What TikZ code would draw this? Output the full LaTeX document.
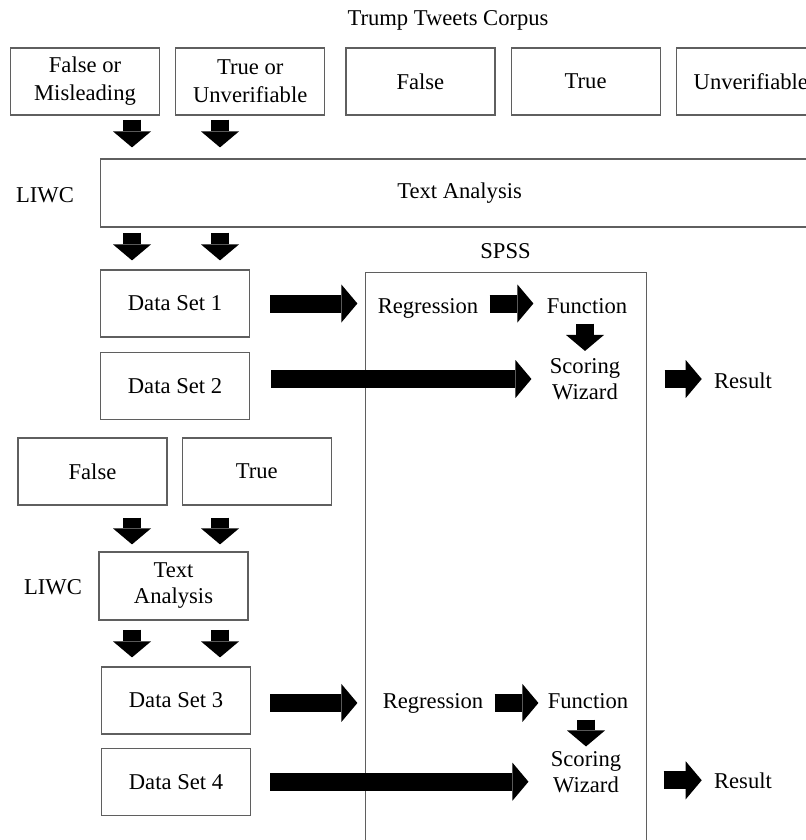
\documentclass[tikz,border=0pt]{standalone}
\usepackage{fontspec}
\setmainfont{Liberation Serif}
\usepackage{tikz}
\usetikzlibrary{%
	calc,%
	arrows.meta,%
	positioning,%
}
\definecolor{cborder}{RGB}{95, 95, 95}
\tikzset{
	nodes={align=center, font={\fontsize{11.3pt}{13pt}\selectfont}},%
	catbox/.style={%
			draw=cborder,%
			line width=0.6pt,%
			rectangle,%
			minimum width=74.5pt,%
			minimum height=33.5pt,%
			inner sep=0pt},%
	toolbox/.style={%
			draw=cborder,%
			line width=0.6pt,%
			rectangle,%
			inner sep=0pt},%
	plain/.style={%
			inner sep=0pt,%
			anchor=base},%
	blk/.style={%
			line width=9pt,%
			-{Triangle[length=8pt, width=19pt, line width=0pt]}},%
}

\begin{document}
\begin{tikzpicture}[x=0.5pt, y=-0.5pt]
	\useasboundingbox (0,0) rectangle (806,840);
	\clip (0,0) rectangle (806,840);

	\node[plain] (corpus) at (448,26) {Trump Tweets Corpus};

	\node[catbox, font={\fontsize{11.3pt}{14pt}\selectfont}] (fom) at (85,81.5) {False or\\Misleading};
	\node[catbox, font={\fontsize{11.3pt}{14pt}\selectfont}, right=7.5pt of fom] (tou) {True or\\Unverifiable};
	\node[catbox, right=10pt of tou] (fls) {False};
	\node[catbox, right=7.5pt of fls] (tru) {True};
	\node[catbox, right=7.5pt of tru] (unv) {Unverifiable};

	\node[catbox, minimum width=359pt, minimum height=34pt, anchor=west] (ta1) at (100,193) {Text Analysis};
	\node[plain] (liwc1) at (45,202) {LIWC};

	\node[catbox] (ds1) at (175,303.5) {Data Set 1};
	\node[catbox, below=7pt of ds1] (ds2) {Data Set 2};

	\node[toolbox, minimum width=140.5pt, minimum height=300pt, anchor=north west] (spss) at (365,272) {};
	\node[plain] (spsslbl) at (505.5,258) {SPSS};

	\node[plain] (reg1) at (428,313) {Regression};
	\node[plain] (fun1) at (587,313) {Function};
	\node (sw1) [inner sep=0pt] at (585,379) {Scoring\\Wizard};
	\node[plain] (res1) at (743,388) {Result};

	\node[catbox] (fls2) at (92.5,471.5) {False};
	\node[catbox, right=7pt of fls2] (tru2) {True};
	\node[catbox, minimum height=34pt] (ta2) at (173.5,586) {Text\\Analysis};
	\node[plain] (liwc2) at (53,594) {LIWC};

	\node[catbox] (ds3) at (176,700.5) {Data Set 3};
	\node[catbox, below=6.5pt of ds3] (ds4) {Data Set 4};

	\node[plain] (reg2) at (433,708) {Regression};
	\node[plain] (fun2) at (588,708) {Function};
	\node (sw2) [inner sep=0pt] at (586,772) {Scoring\\Wizard};
	\node[plain] (res2) at (743,788) {Result};

	\coordinate (colL) at (132,0);
	\coordinate (colR) at (220,0);

	\draw[blk, shorten <=2pt, shorten >=5.5pt] (colL |- fom.south) to (colL |- ta1.north);
	\draw[blk, shorten <=2pt, shorten >=5.5pt] (colR |- tou.south) to (colR |- ta1.north);
	\draw[blk, shorten <=2.5pt, shorten >=4.5pt] (colL |- ta1.south) to (colL |- ds1.north);
	\draw[blk, shorten <=2.5pt, shorten >=4.5pt] (colR |- ta1.south) to (colR |- ds1.north);

	\draw[blk, shorten <=10pt, shorten >=10pt] (ds1.east) to (ds1.east -| reg1.west);
	\draw[blk, shorten <=5.5pt, shorten >=6.5pt] (ds1.east -| reg1.east) to (ds1.east -| fun1.west);
	\draw[blk, shorten <=5pt, shorten >=3.5pt] (sw1.north |- fun1.south) to (sw1.north);
	\draw[blk, shorten <=10.5pt, shorten >=9pt] (ds2.east |- sw1.west) to (sw1.west);
	\draw[blk, shorten <=22pt, shorten >=6pt] (sw1.east) to (sw1.east -| res1.west);

	\draw[blk, shorten <=6pt, shorten >=3.5pt] (colL |- fls2.south) to (colL |- ta2.north);
	\draw[blk, shorten <=6pt, shorten >=3.5pt] (colR |- tru2.south) to (colR |- ta2.north);
	\draw[blk, shorten <=4.5pt, shorten >=4.5pt] (colL |- ta2.south) to (colL |- ds3.north);
	\draw[blk, shorten <=4.5pt, shorten >=4.5pt] (colR |- ta2.south) to (colR |- ds3.north);

	\draw[blk, shorten <=9.5pt, shorten >=12.5pt] (ds3.east |- reg2.west) to (reg2.west);
	\draw[blk, shorten <=5.5pt, shorten >=4.5pt] (reg2.east) to (reg2.east -| fun2.west);
	\draw[blk, shorten <=5.5pt, shorten >=2.25pt] (sw2.north |- fun2.south) to (sw2.north);
	\draw[blk, shorten <=9.5pt, shorten >=11pt] (ds4.east) to (ds4.east -| sw2.west);
	\draw[blk, shorten <=21pt, shorten >=6pt] (sw2.east |- res2.west) to (res2.west);
\end{tikzpicture}
\end{document}
